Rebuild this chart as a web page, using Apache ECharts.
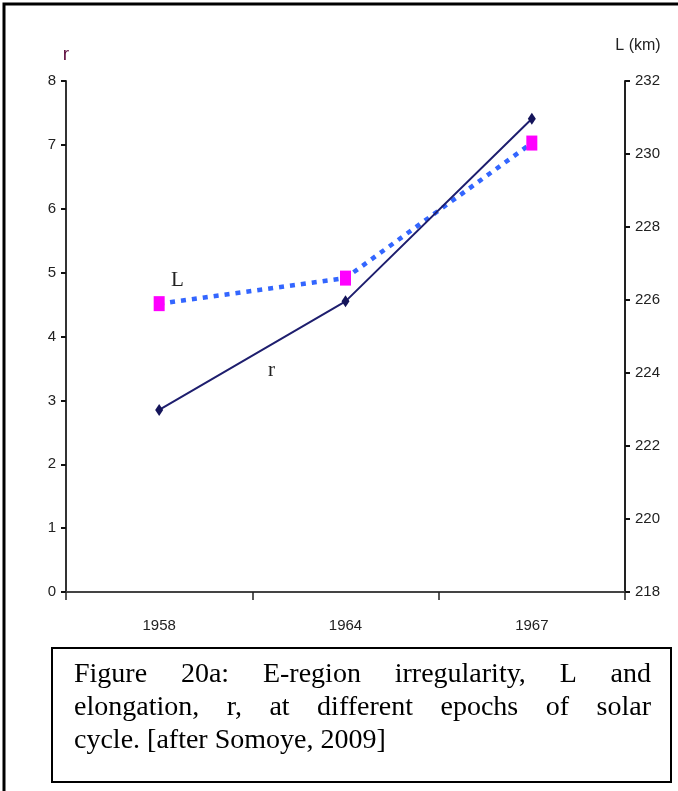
<!DOCTYPE html>
<html>
<head>
<meta charset="utf-8">
<script src="https://cdn.jsdelivr.net/npm/echarts@6/dist/echarts.min.js"></script>
<style>
html,body{margin:0;padding:0;background:#fff;}
#chart{width:678px;height:791px;}
</style>
</head>
<body>
<div id="chart"></div>
<script>
// ---- data ----
var epochs = ['1958', '1964', '1967'];
var rValues = [2.85, 4.55, 7.41];
var lValues = [225.9, 226.6, 230.3];
var rTicks = {min: 0, max: 8, interval: 1};
var lTicks = {min: 218, max: 232, interval: 2};
var captionLines = [
  'Figure 20a: E-region irregularity, L and',
  'elongation, r, at different epochs of solar',
  'cycle. [after Somoye, 2009]'
];

var sans = "'Liberation Sans', Arial, sans-serif";
var serif = "'Liberation Serif', 'Times New Roman', serif";

// justified caption built as text graphics
var capFontSize = 28;
var ctx = document.createElement('canvas').getContext('2d');
ctx.font = capFontSize + 'px "Liberation Serif"';
var capLeft = 74, capRight = 651, capBase = [686, 719, 752];
var captionEls = [];
captionLines.forEach(function (line, i) {
  var words = line.split(' ');
  var justify = i < captionLines.length - 1;
  var widths = words.map(function (w) { return ctx.measureText(w).width; });
  var total = widths.reduce(function (a, b) { return a + b; }, 0);
  var gap = justify ? (capRight - capLeft - total) / (words.length - 1) : ctx.measureText(' ').width;
  var x = capLeft;
  words.forEach(function (w, k) {
    captionEls.push({
      type: 'text', left: x, top: capBase[i] - capFontSize * 0.89,
      style: {text: w, font: capFontSize + 'px ' + serif, fill: '#000'}
    });
    x += widths[k] + gap;
  });
});

var chart = echarts.init(document.getElementById('chart'), null, {renderer: 'canvas'});
chart.setOption({
  backgroundColor: '#fff',
  animation: false,
  grid: {left: 66, right: 53, top: 81, bottom: 199},
  xAxis: {
    type: 'category',
    data: epochs,
    boundaryGap: true,
    axisLine: {lineStyle: {color: '#444', width: 2}},
    axisTick: {show: true, length: 8, inside: false, lineStyle: {color: '#222', width: 1.5}},
    axisLabel: {fontFamily: sans, fontSize: 15, color: '#222', margin: 26},
    splitLine: {show: false}
  },
  yAxis: [{
    type: 'value',
    min: rTicks.min, max: rTicks.max, interval: rTicks.interval,
    name: 'r', nameLocation: 'end', nameGap: 17,
    nameTextStyle: {fontFamily: sans, fontSize: 19, color: '#5c0a3c'},
    axisLine: {show: true, lineStyle: {color: '#333', width: 2}},
    axisTick: {show: true, length: 5, lineStyle: {color: '#111', width: 2}},
    axisLabel: {fontFamily: sans, fontSize: 15, color: '#222', margin: 10},
    splitLine: {show: false}
  }, {
    type: 'value',
    position: 'right',
    min: lTicks.min, max: lTicks.max, interval: lTicks.interval,
    name: 'L (km)', nameLocation: 'end', nameGap: 27,
    nameTextStyle: {fontFamily: sans, fontSize: 16, color: '#222', align: 'center', padding: [0, 0, 0, 26]},
    axisLine: {show: true, lineStyle: {color: '#222', width: 2}},
    axisTick: {show: true, length: 5, lineStyle: {color: '#111', width: 2}},
    axisLabel: {fontFamily: sans, fontSize: 15, color: '#222', margin: 10},
    splitLine: {show: false}
  }],
  series: [{
    name: 'L', type: 'line', yAxisIndex: 1, data: lValues,
    symbol: 'rect', symbolSize: [11, 15],
    itemStyle: {color: '#ff00ff'},
    lineStyle: {color: '#3366ff', width: 4.5, type: [5, 6]},
    z: 2
  }, {
    name: 'r', type: 'line', yAxisIndex: 0, data: rValues,
    symbol: 'diamond', symbolSize: [8, 12],
    itemStyle: {color: '#14145a'},
    lineStyle: {color: '#1e1e6e', width: 2},
    z: 3
  }],
  graphic: [
    {type: 'rect', shape: {x: 4, y: 4, width: 720, height: 820}, style: {fill: 'none', stroke: '#000', lineWidth: 3}, silent: true},
    {type: 'rect', shape: {x: 52, y: 648, width: 619, height: 134}, style: {fill: 'none', stroke: '#000', lineWidth: 2}, silent: true},
    {type: 'text', left: 171, top: 270, style: {text: 'L', font: '21px ' + serif, fill: '#222'}},
    {type: 'text', left: 268, top: 360, style: {text: 'r', font: '21px ' + serif, fill: '#222'}}
  ].concat(captionEls)
});
</script>
</body>
</html>
